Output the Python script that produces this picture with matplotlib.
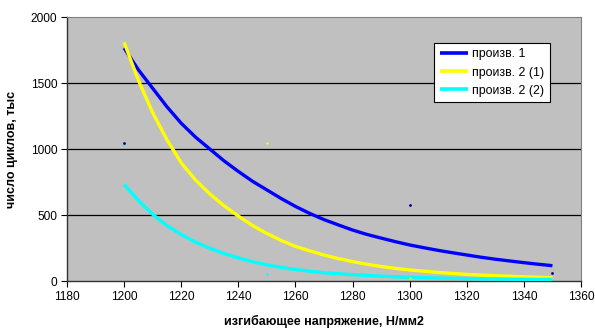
import matplotlib
matplotlib.use("Agg")
import matplotlib.pyplot as plt

plt.rcParams['font.family'] = ['Liberation Sans', 'DejaVu Sans']

x_curve = [1200, 1205, 1210, 1215, 1220, 1225, 1230, 1235, 1240, 1245, 1250, 1255, 1260, 1265, 1270,
           1275, 1280, 1285, 1290, 1295, 1300, 1305, 1310, 1315, 1320, 1325, 1330, 1335, 1340, 1345, 1350]
prod1 = [1765, 1600, 1460, 1320, 1195, 1090, 1000, 910, 830, 755, 690, 625, 565, 512, 465,
         425, 386, 353, 325, 298, 273, 252, 232, 214, 197, 180, 165, 152, 139, 127, 116]
prod2_1 = [1808, 1520, 1275, 1070, 895, 765, 660, 570, 492, 420, 360, 307, 262, 228, 197,
           170, 147, 127, 110, 96, 84, 74, 65, 57, 50, 45, 40, 36, 32, 28, 25]
prod2_2 = [732, 610, 505, 420, 352, 295, 248, 208, 175, 146, 122, 103, 87, 74, 63,
           55, 48, 42, 37, 32, 28, 25, 22, 20, 18, 16, 15, 14, 13, 12, 12]

# small data markers
pts1_x = [1200, 1300, 1350]
pts1_y = [1045, 575, 58]
pts2_x = [1200, 1250, 1300]
pts2_y = [1045, 1045, 20]
pts3_x = [1200, 1250]
pts3_y = [1040, 51]

series_names = ["произв. 1", "произв. 2 (1)", "произв. 2 (2)"]
xticks = [1180, 1200, 1220, 1240, 1260, 1280, 1300, 1320, 1340, 1360]
yticks = [0, 500, 1000, 1500, 2000]
grid_levels = [500, 1000, 1500]

fig = plt.figure(figsize=(5.95, 3.31), dpi=100)
ax = fig.add_axes([67/595, 50/331, 514/595, 264/331])
ax.set_facecolor('#C0C0C0')

for g in grid_levels:
    ax.axhline(g, color='black', lw=0.9, zorder=1)

colors = ['#0000FF', '#FFFF00', '#00FFFF']
for ys, c, n in zip([prod1, prod2_1, prod2_2], colors, series_names):
    ax.plot(x_curve, ys, color=c, lw=2.4, label=n, solid_capstyle='butt', zorder=3)

ax.scatter(pts3_x, pts3_y, s=3, color='#00FFFF', zorder=4, linewidths=0)
ax.scatter(pts2_x, pts2_y, s=3, color='#FFFF00', zorder=4, linewidths=0)
ax.scatter(pts1_x, pts1_y, s=4, color='#000080', zorder=4, linewidths=0)

ax.set_xlim(1180, 1360)
ax.set_ylim(0, 2000)
ax.set_xticks(xticks)
ax.set_yticks(yticks)
ax.tick_params(labelsize=8.6, length=4, width=0.8, direction='out', colors='black', pad=3)
for s in ['left', 'bottom']:
    ax.spines[s].set_color('#333333')
    ax.spines[s].set_linewidth(1.0)
for s in ['right', 'top']:
    ax.spines[s].set_color('#808080')
    ax.spines[s].set_linewidth(0.8)

ax.set_xlabel("изгибающее напряжение, Н/мм2", fontsize=9, fontweight='bold', labelpad=9)
ax.set_ylabel("число циклов, тыс", fontsize=9, fontweight='bold', labelpad=9)

leg = ax.legend(loc='upper left', bbox_to_anchor=(0.714, 0.902), fontsize=8.9,
                frameon=True, fancybox=False, shadow=False, handlelength=2.3,
                borderpad=0.45, labelspacing=0.5, handletextpad=0.35, borderaxespad=0,
                framealpha=1)
leg.get_frame().set_edgecolor('black')
leg.get_frame().set_linewidth(0.8)
leg.get_frame().set_facecolor('white')
for line in leg.get_lines():
    line.set_linewidth(2.6)

fig.savefig("out.png", dpi=100)
